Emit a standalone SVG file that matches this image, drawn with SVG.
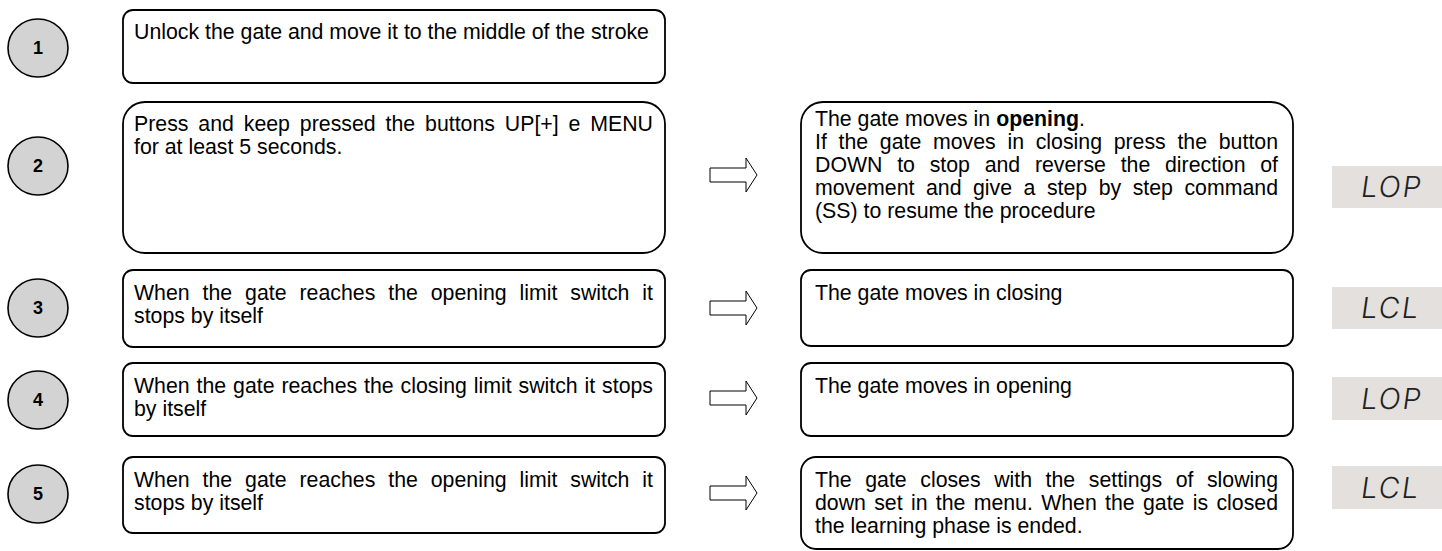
<svg xmlns="http://www.w3.org/2000/svg" width="1442" height="551" viewBox="0 0 1442 551">
<style>
.box{fill:#fff;stroke:#000;stroke-width:1.8}
.num{fill:#d3d3d3;stroke:#000;stroke-width:1.6}
.nt{font-family:"Liberation Sans",Arial,sans-serif;font-size:18px;font-weight:bold;text-anchor:middle;fill:#000}
.t{font-family:"Liberation Sans",Arial,sans-serif;font-size:21.3px;fill:#000}
.arr{fill:#fff;stroke:#000;stroke-width:1}
.lcd{fill:#e4e0dd}
.lt{font-family:Inter,"DejaVu Sans",sans-serif;font-size:29px;font-weight:300;fill:#222;letter-spacing:2px}
</style>
<defs>
<polygon id="arrow" class="arr" points="0,-7 36,-7 36,-17 47,0 36,17 36,7 0,7"/>
</defs>
<g id="steps">
<g id="step1"><ellipse class="num" cx="38" cy="48" rx="30" ry="29"/><text class="nt" x="38" y="54">1</text></g>
<g id="step2"><ellipse class="num" cx="38" cy="166" rx="30" ry="29"/><text class="nt" x="38" y="172">2</text></g>
<g id="step3"><ellipse class="num" cx="38" cy="308" rx="30" ry="29"/><text class="nt" x="38" y="314">3</text></g>
<g id="step4"><ellipse class="num" cx="38" cy="400" rx="30" ry="29"/><text class="nt" x="38" y="406">4</text></g>
<g id="step5"><ellipse class="num" cx="38" cy="494" rx="30" ry="29"/><text class="nt" x="38" y="500">5</text></g>
</g>
<g id="box1"><rect class="box" x="123" y="10" width="542" height="73" rx="10"/>
<text class="t" x="134" y="39">Unlock the gate and move it to the middle of the stroke</text></g>
<g id="box2"><rect class="box" x="123" y="102" width="542" height="151" rx="22"/>
<text class="t" x="134" y="131" word-spacing="3.98" textLength="519" lengthAdjust="spacing">Press and keep pressed the buttons UP[+] e MENU</text>
<text class="t" x="134" y="154">for at least 5 seconds.</text></g>
<g id="box3"><rect class="box" x="123" y="270" width="542" height="77" rx="10"/>
<text class="t" x="134" y="300" word-spacing="7.01" textLength="519" lengthAdjust="spacing">When the gate reaches the opening limit switch it</text>
<text class="t" x="134" y="323">stops by itself</text></g>
<g id="box4"><rect class="box" x="123" y="363" width="542" height="73" rx="10"/>
<text class="t" x="134" y="393" word-spacing="0.98" textLength="519" lengthAdjust="spacing">When the gate reaches the closing limit switch it stops</text>
<text class="t" x="134" y="416">by itself</text></g>
<g id="box5"><rect class="box" x="123" y="457" width="542" height="76" rx="10"/>
<text class="t" x="134" y="487" word-spacing="7.01" textLength="519" lengthAdjust="spacing">When the gate reaches the opening limit switch it</text>
<text class="t" x="134" y="510">stops by itself</text></g>
<g id="connectors">
<use href="#arrow" x="710" y="175"/>
<use href="#arrow" x="710" y="308"/>
<use href="#arrow" x="710" y="398"/>
<use href="#arrow" x="710" y="493"/>
</g>
<g id="result2"><rect class="box" x="801" y="102" width="492" height="151" rx="22"/>
<text class="t" x="815" y="126">The gate moves in <tspan font-weight="bold">opening</tspan>.</text>
<text class="t" x="815" y="149" word-spacing="5.78" textLength="463" lengthAdjust="spacing">If the gate moves in closing press the button</text>
<text class="t" x="815" y="172" word-spacing="8.81" textLength="463" lengthAdjust="spacing">DOWN to stop and reverse the direction of</text>
<text class="t" x="815" y="195" word-spacing="5.6" textLength="463" lengthAdjust="spacing">movement and give a step by step command</text>
<text class="t" x="815" y="218">(SS) to resume the procedure</text></g>
<g id="result3"><rect class="box" x="801" y="270" width="492" height="76" rx="10"/>
<text class="t" x="815" y="300">The gate moves in closing</text></g>
<g id="result4"><rect class="box" x="801" y="363" width="492" height="73" rx="10"/>
<text class="t" x="815" y="393">The gate moves in opening</text></g>
<g id="result5"><rect class="box" x="801" y="457" width="492" height="92" rx="15"/>
<text class="t" x="815" y="487" word-spacing="7.63" textLength="463" lengthAdjust="spacing">The gate closes with the settings of slowing</text>
<text class="t" x="815" y="510" word-spacing="2.38" textLength="463" lengthAdjust="spacing">down set in the menu. When the gate is closed</text>
<text class="t" x="815" y="533">the learning phase is ended.</text></g>
<g id="display2"><rect class="lcd" x="1332" y="166" width="110" height="42"/><text class="lt" x="1360" y="197" transform="skewX(-8)" transform-origin="1360 197">LOP</text></g>
<g id="display3"><rect class="lcd" x="1332" y="287" width="110" height="42"/><text class="lt" x="1360" y="318" transform="skewX(-8)" transform-origin="1360 318">LCL</text></g>
<g id="display4"><rect class="lcd" x="1332" y="377" width="110" height="43"/><text class="lt" x="1360" y="409" transform="skewX(-8)" transform-origin="1360 409">LOP</text></g>
<g id="display5"><rect class="lcd" x="1332" y="466" width="110" height="43"/><text class="lt" x="1360" y="498" transform="skewX(-8)" transform-origin="1360 498">LCL</text></g>
</svg>
